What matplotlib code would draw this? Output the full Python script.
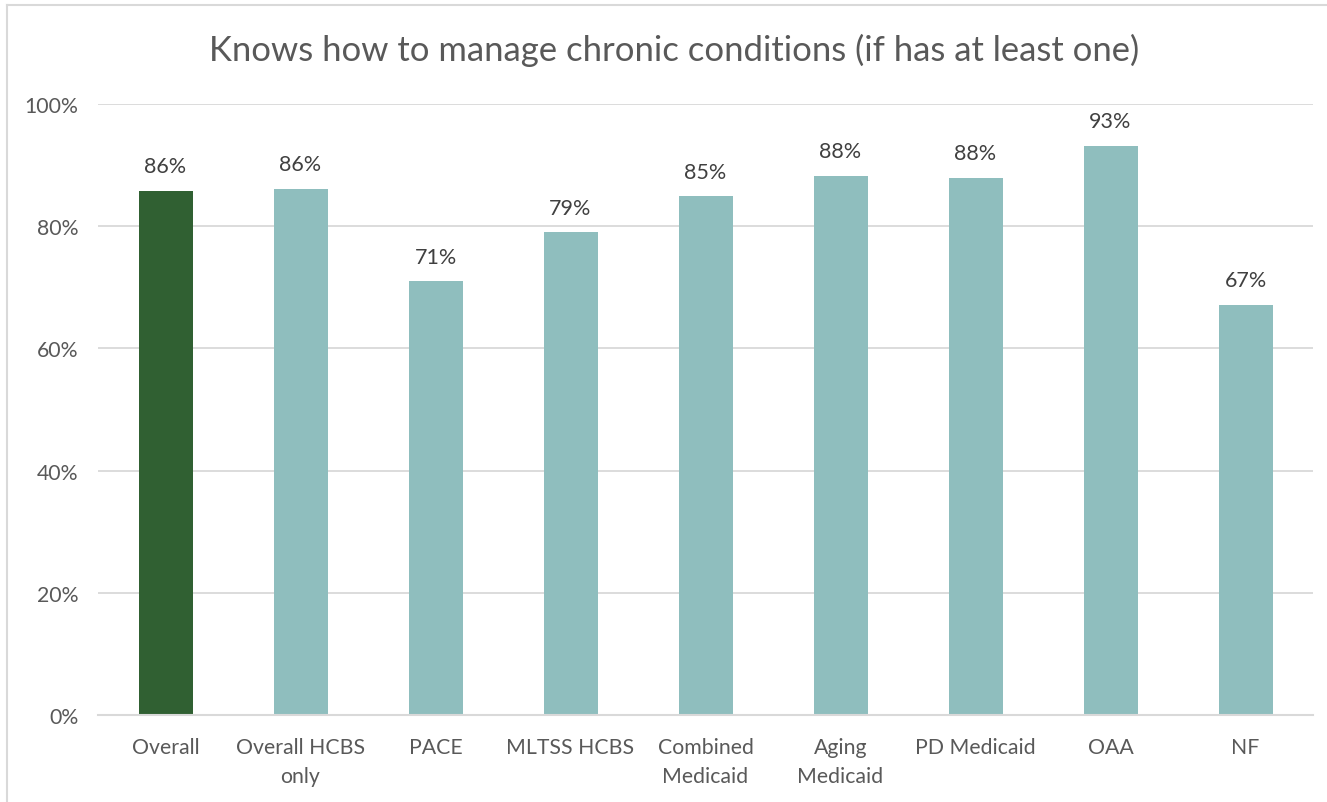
import matplotlib.pyplot as plt
import numpy as np
from matplotlib.lines import Line2D
from matplotlib.ticker import FuncFormatter

categories = ["Overall", "Overall HCBS\nonly", "PACE", "MLTSS HCBS", "Combined\nMedicaid",
              "Aging\nMedicaid", "PD Medicaid", "OAA", "NF"]
values = [85.8, 86.1, 71.0, 79.0, 84.9, 88.2, 87.9, 93.1, 67.1]
value_labels = ["86%", "86%", "71%", "79%", "85%", "88%", "88%", "93%", "67%"]

DARK_GREEN = "#306032"
TEAL = "#8FBEBE"
TEXT = "#595959"
GRID = "#D9D9D9"

plt.rcParams["font.family"] = ["Lato", "DejaVu Sans"]

fig = plt.figure(figsize=(13.27, 8.03), dpi=100)
ax = fig.add_axes([98 / 1327, 1 - 716 / 803, (1313 - 98) / 1327, (716 - 105) / 803])

xs = np.arange(len(categories))
colors = [DARK_GREEN] + [TEAL] * (len(categories) - 1)
ax.bar(xs, values, width=0.4, color=colors, zorder=3)

for x, v, lab in zip(xs, values, value_labels):
    ax.text(x, v + 2.4, lab, ha="center", va="bottom", fontsize=15.5, color="#404040")

ax.set_xlim(-0.5, len(categories) - 0.5)
ax.set_ylim(0, 100)
ax.set_yticks(np.arange(0, 101, 20))
ax.yaxis.set_major_formatter(FuncFormatter(lambda v, _: f"{v:.0f}%"))
ax.set_xticks(xs)
ax.set_xticklabels(categories)
ax.tick_params(axis="both", length=0, labelsize=15.3, colors=TEXT)
ax.tick_params(axis="x", pad=15.5)
ax.tick_params(axis="y", pad=14)
for lbl in ax.get_xticklabels():
    lbl.set_va("top")
    lbl.set_linespacing(1.6)

ax.grid(axis="y", color=GRID, linewidth=1.3, zorder=0)
for side in ["top", "right", "left"]:
    ax.spines[side].set_visible(False)
ax.spines["bottom"].set_color(GRID)
ax.spines["bottom"].set_linewidth(1.5)
ax.spines["bottom"].set_zorder(4)

fig.text(0.508, 1 - 50 / 803, "Knows how to manage chronic conditions (if has at least one)",
         ha="center", va="center", fontsize=24.9, color=TEXT)

# chart-area border (top and left visible in the source crop)
fig.add_artist(Line2D([7 / 1327, 7 / 1327], [0, 1 - 6 / 803], transform=fig.transFigure,
                      color=GRID, linewidth=1.5))
fig.add_artist(Line2D([7 / 1327, 1], [1 - 6 / 803, 1 - 6 / 803], transform=fig.transFigure,
                      color=GRID, linewidth=1.5))

fig.savefig("out.png", dpi=100)
